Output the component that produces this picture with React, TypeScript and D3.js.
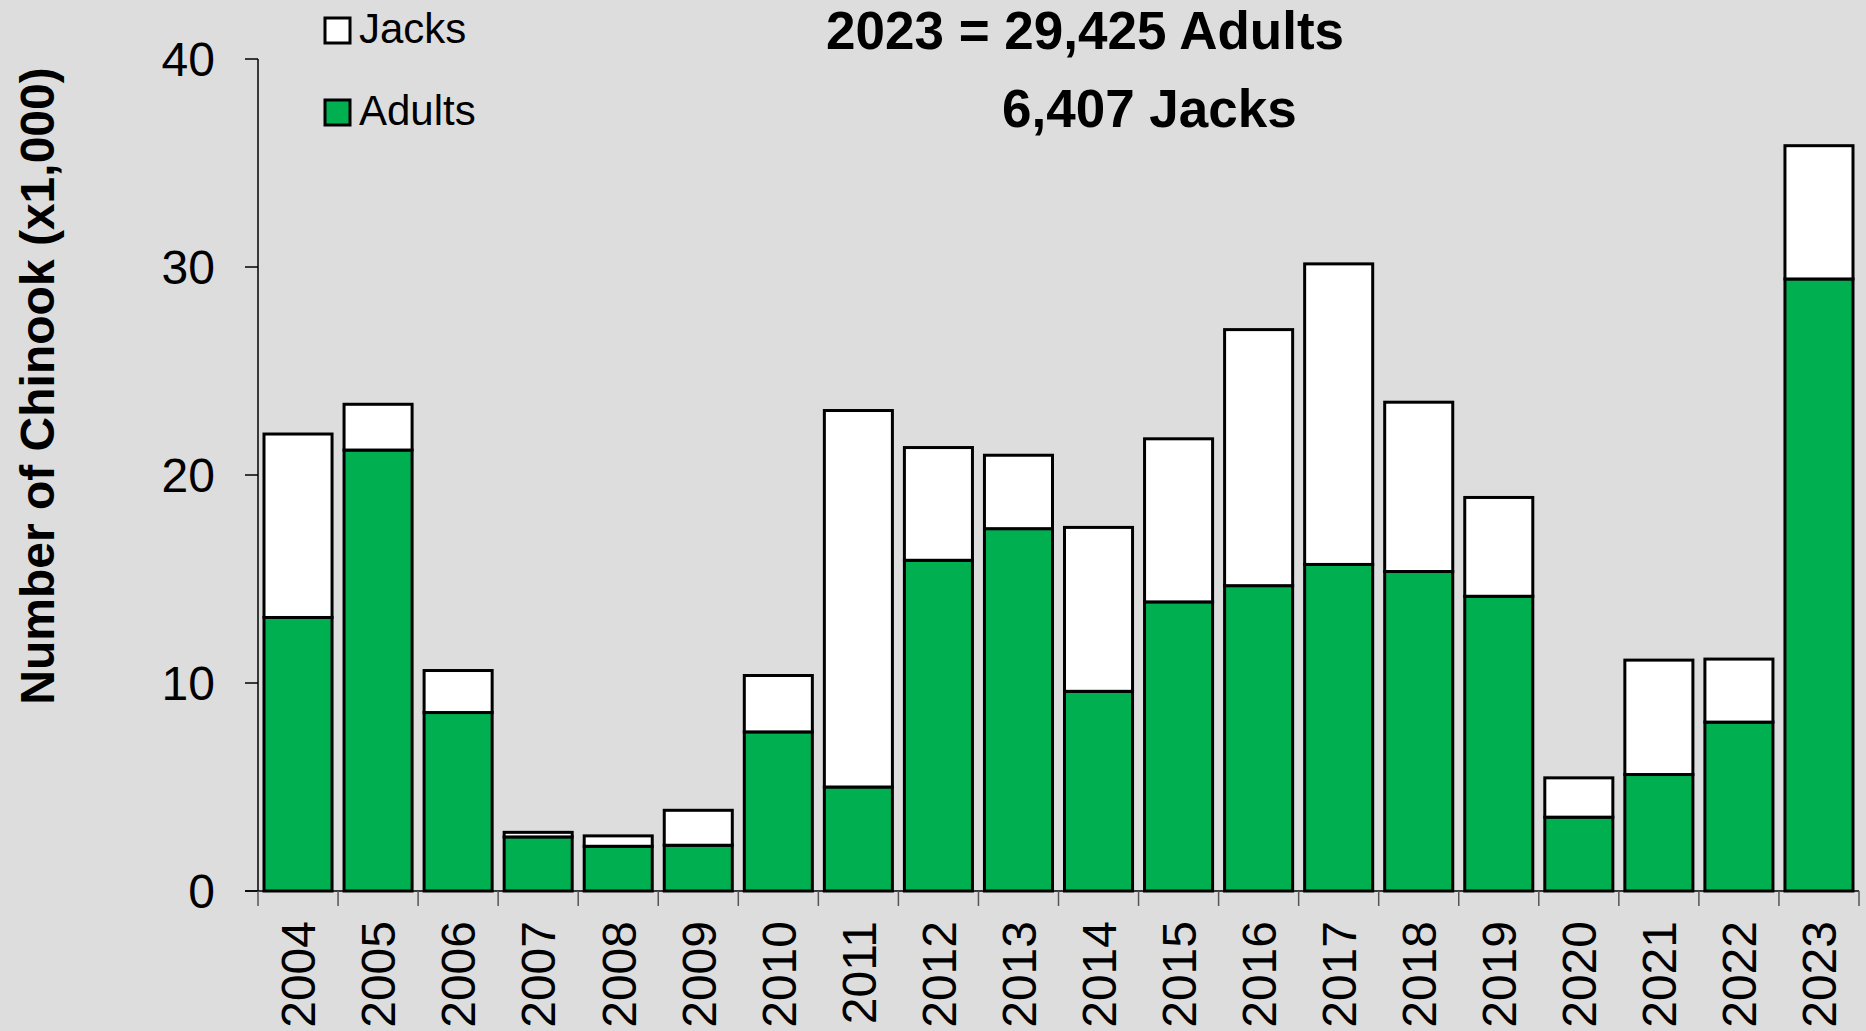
import * as d3 from 'd3';

// Chinook returns by year, thousands of fish
const years = [
  '2004', '2005', '2006', '2007', '2008', '2009', '2010', '2011', '2012', '2013',
  '2014', '2015', '2016', '2017', '2018', '2019', '2020', '2021', '2022', '2023',
];
const adults = [
  13.15, 21.2, 8.58, 2.6, 2.15, 2.2, 7.65, 5.0, 15.9, 17.42,
  9.6, 13.9, 14.68, 15.7, 15.36, 14.17, 3.55, 5.6, 8.12, 29.425,
];
const jacks = [
  8.82, 2.2, 2.02, 0.22, 0.5, 1.68, 2.71, 18.1, 5.42, 3.53,
  7.88, 7.84, 12.31, 14.45, 8.14, 4.75, 1.89, 5.5, 3.03, 6.407,
];
const yTicks = [0, 10, 20, 30, 40];
const seriesKeys = ['adults', 'jacks'];
const seriesColors: Record<string, string> = { adults: '#00B050', jacks: '#FFFFFF' };

const W = 1866;
const H = 1031;
const FONT = '"Liberation Sans", Arial, Helvetica, sans-serif';

const App = () => {
  const x0 = 258;
  const x1 = 1859;
  const yBase = 891;
  const yTop = 59;

  const x = d3.scaleBand<string>().domain(years).range([x0, x1]).paddingInner(0.15).paddingOuter(0.075);
  const y = d3.scaleLinear().domain([0, 40]).range([yBase, yTop]);

  const rows = years.map((yr, i) => ({ year: yr, adults: adults[i], jacks: jacks[i] }));
  const stacked = d3.stack<any>().keys(seriesKeys)(rows);

  const step = x.step();
  const boundaries = d3.range(years.length + 1).map((i) => x0 + i * step);

  return (
    <svg
      width={W}
      height={H}
      style={{ position: 'absolute', left: 0, top: 0, background: '#DDDDDD' }}
      fontFamily={FONT}
    >
      <rect x={0} y={0} width={W} height={H} fill='#DDDDDD' />

      {/* bars */}
      {stacked.map((layer) => (
        <g key={layer.key} fill={seriesColors[layer.key]} stroke='#000' strokeWidth={3}>
          {layer.map((d, i) => (
            <rect
              key={years[i]}
              x={x(years[i])}
              y={y(d[1])}
              width={x.bandwidth()}
              height={y(d[0]) - y(d[1])}
            />
          ))}
        </g>
      ))}

      {/* y axis */}
      <line x1={x0} x2={x0} y1={yTop} y2={yBase} stroke='#000' strokeWidth={1.5} />
      {yTicks.map((t) => (
        <g key={t}>
          <line x1={x0 - 13} x2={x0} y1={y(t)} y2={y(t)} stroke='#000' strokeWidth={1.5} />
          <text x={215} y={y(t)} dy='0.36em' textAnchor='end' fontSize={48} fill='#000'>
            {t}
          </text>
        </g>
      ))}

      {/* x axis */}
      <line x1={x0 - 13} x2={x1} y1={yBase} y2={yBase} stroke='#000' strokeWidth={1.5} />
      {boundaries.map((bx, i) => (
        <line key={i} x1={bx} x2={bx} y1={yBase} y2={yBase + 15} stroke='#555' strokeWidth={1.5} />
      ))}
      {years.map((yr) => {
        const cx = (x(yr) || 0) + x.bandwidth() / 2;
        return (
          <text
            key={yr}
            transform={`translate(${cx},921) rotate(-90)`}
            dy='0.36em'
            textAnchor='end'
            fontSize={48}
            fill='#000'
          >
            {yr}
          </text>
        );
      })}

      {/* y axis title */}
      <text
        transform='translate(37,386) rotate(-90)'
        dy='0.36em'
        textAnchor='middle'
        fontSize={48}
        fontWeight='bold'
        fill='#000'
      >
        Number of Chinook (x1,000)
      </text>

      {/* legend */}
      <rect x={325} y={18} width={25} height={25} fill='#FFFFFF' stroke='#000' strokeWidth={3} />
      <text x={359} y={43} fontSize={42} fill='#000'>Jacks</text>
      <rect x={325} y={100} width={25} height={25} fill='#00B050' stroke='#000' strokeWidth={3} />
      <text x={359} y={125} fontSize={42} fill='#000'>Adults</text>

      {/* annotation */}
      <text x={826} y={49} fontSize={53} fontWeight='bold' fill='#000'>
        2023 = 29,425 Adults
      </text>
      <text x={1002} y={127} fontSize={53} fontWeight='bold' fill='#000'>
        6,407 Jacks
      </text>
    </svg>
  );
};

export default App;
